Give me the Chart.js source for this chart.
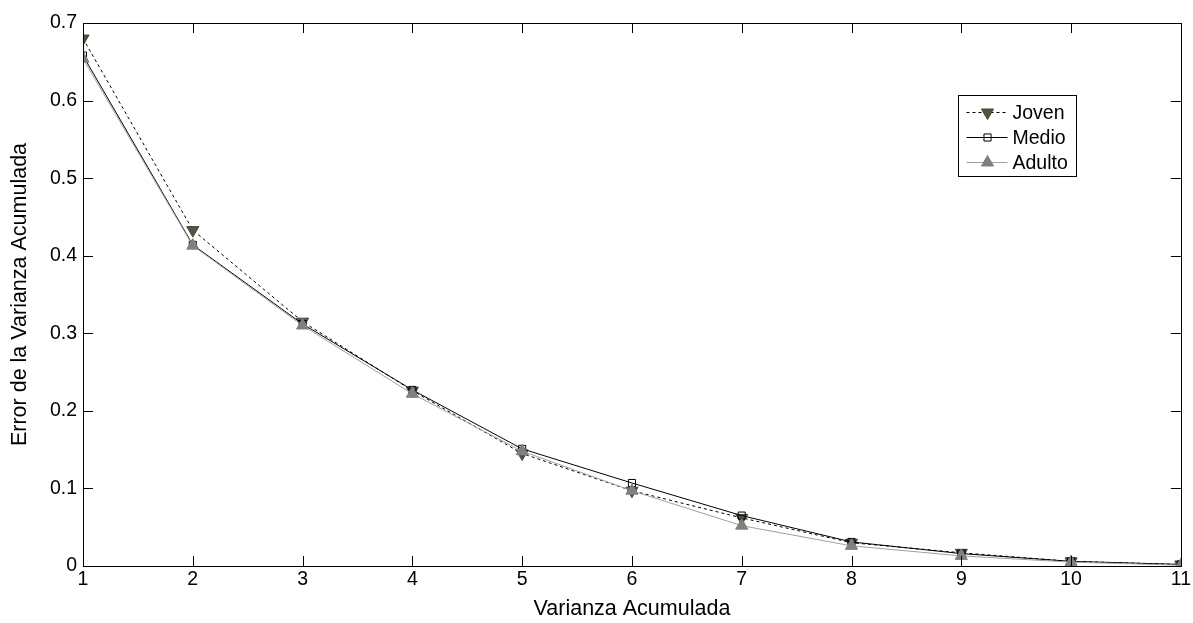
<!DOCTYPE html>
<html><head><meta charset="utf-8">
<script src="https://cdn.jsdelivr.net/npm/chart.js@4/dist/chart.umd.min.js"></script>
<style>html,body{margin:0;padding:0;background:#fff}#wrap{width:1193px;height:623px}</style>
</head><body><div id="wrap"><canvas id="c" width="1193" height="623"></canvas></div>
<script>
const xValues = [1,2,3,4,5,6,7,8,9,10,11];
const joven  = [0.680,0.433,0.315,0.226,0.145,0.097,0.062,0.030,0.017,0.006,0.002];
const medio  = [0.658,0.414,0.312,0.227,0.151,0.107,0.065,0.031,0.016,0.006,0.002];
const adulto = [0.654,0.413,0.310,0.222,0.148,0.097,0.052,0.026,0.013,0.005,0.001];
const seriesNames = ['Joven','Medio','Adulto'];
const xTicks = [1,2,3,4,5,6,7,8,9,10,11];
const yTicks = [0,0.1,0.2,0.3,0.4,0.5,0.6,0.7];

const toPts = arr => arr.map((v,i)=>({x:xValues[i], y:v}));
const FONT = 'Liberation Sans, Arial, sans-serif';

const boxTicks = {
  id:'boxTicks',
  afterDatasetsDraw(chart){
    const {ctx, chartArea:a, scales:{x,y}} = chart;
    ctx.save();
    ctx.strokeStyle='#000'; ctx.lineWidth=1;
    ctx.strokeRect(Math.round(a.left)+0.5, Math.round(a.top)+0.5, Math.round(a.right-a.left), Math.round(a.bottom-a.top));
    const L=10;
    ctx.beginPath();
    xTicks.forEach(t=>{const px=Math.round(x.getPixelForValue(t))+0.5;
      ctx.moveTo(px,a.bottom); ctx.lineTo(px,a.bottom-L);
      ctx.moveTo(px,a.top); ctx.lineTo(px,a.top+L);});
    yTicks.forEach(t=>{const py=Math.round(y.getPixelForValue(t))+0.5;
      ctx.moveTo(a.left,py); ctx.lineTo(a.left+L,py);
      ctx.moveTo(a.right,py); ctx.lineTo(a.right-L,py);});
    ctx.stroke();
    ctx.restore();
  }
};

const legendBox = {
  id:'legendBox',
  afterDraw(chart){
    const {ctx}=chart;
    const bx=958.5, by=95.5, bw=118, bh=81;
    ctx.save();
    ctx.fillStyle='#fff'; ctx.fillRect(bx,by,bw,bh);
    ctx.strokeStyle='#000'; ctx.lineWidth=1; ctx.strokeRect(bx,by,bw,bh);
    ctx.font='19.5px '+FONT; ctx.textBaseline='middle';
    chart.data.datasets.forEach((ds,i)=>{
      const yy = by+17+i*25;
      ctx.save();
      ctx.strokeStyle=ds.borderColor; ctx.lineWidth=1;
      ctx.setLineDash(ds.borderDash||[]);
      ctx.beginPath(); ctx.moveTo(bx+8,yy); ctx.lineTo(bx+49,yy); ctx.stroke();
      ctx.restore();
      ctx.save();
      ctx.fillStyle=ds.pointBackgroundColor; ctx.strokeStyle=ds.pointBorderColor; ctx.lineWidth=1;
      Chart.helpers.drawPoint(ctx,{pointStyle:ds.pointStyle,radius:ds.pointRadius,rotation:ds.pointRotation||0,borderWidth:1},bx+29,yy);
      ctx.restore();
      ctx.fillStyle='#000';
      ctx.fillText(ds.label,bx+54,yy+1);
    });
    ctx.restore();
  }
};

new Chart(document.getElementById('c'),{
  type:'scatter',
  data:{datasets:[
    {label:seriesNames[0], data:toPts(joven), showLine:true, borderColor:'#000', borderWidth:1, borderDash:[3,3],
     pointStyle:'triangle', pointRotation:180, pointRadius:7, pointBackgroundColor:'#55553f', pointBorderColor:'#44443a', pointBorderWidth:1, order:3},
    {label:seriesNames[1], data:toPts(medio), showLine:true, borderColor:'#000', borderWidth:1,
     pointStyle:'rect', pointRadius:5, pointBackgroundColor:'rgba(0,0,0,0)', pointBorderColor:'#000', pointBorderWidth:1, order:2},
    {label:seriesNames[2], data:toPts(adulto), showLine:true, borderColor:'#a0a0a0', borderWidth:1,
     pointStyle:'triangle', pointRadius:7, pointBackgroundColor:'#808080', pointBorderColor:'#808080', pointBorderWidth:1, order:1}
  ]},
  options:{
    responsive:false, animation:false, devicePixelRatio:1,
    layout:{padding:{top:23,right:3,left:0,bottom:0}},
    plugins:{legend:{display:false}, tooltip:{enabled:false}},
    scales:{
      x:{type:'linear', min:1, max:11, grid:{display:false, drawTicks:false}, border:{display:false},
         afterBuildTicks(s){s.ticks=xTicks.map(v=>({value:v}));},
         afterFit(s){s.height=57;},
         ticks:{color:'#000', font:{family:FONT,size:19.5}, padding:2, maxRotation:0, autoSkip:false},
         title:{display:true, text:'Varianza Acumulada', color:'#000', font:{family:FONT,size:21.5}, padding:{top:2,bottom:1}}},
      y:{type:'linear', min:0, max:0.7, grid:{display:false, drawTicks:false}, border:{display:false},
         afterBuildTicks(s){s.ticks=yTicks.map(v=>({value:v}));},
         afterFit(s){s.width=83;},
         ticks:{color:'#000', font:{family:FONT,size:19.5}, padding:6, callback:v=>String(+v.toFixed(1))},
         title:{display:true, text:'Error de la Varianza Acumulada', color:'#000', font:{family:FONT,size:21.5}, padding:{top:7,bottom:0}}}
    }
  },
  plugins:[boxTicks, legendBox]
});
</script></body></html>
